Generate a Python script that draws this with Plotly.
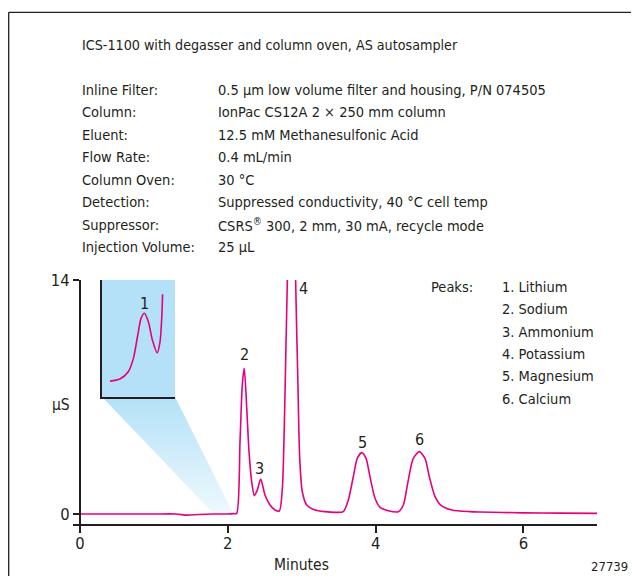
import plotly.graph_objects as go

# ---------------- data ----------------
time_min = [0.00, 0.50, 1.00, 1.30, 1.45, 1.60, 1.80, 2.00, 2.08, 2.120,
            2.165, 2.196, 2.223, 2.256, 2.287, 2.323, 2.359, 2.400, 2.445, 2.503,
            2.571, 2.639, 2.697, 2.738, 2.765, 2.788, 2.805, 2.820, 2.860, 2.900,
            2.918, 2.946, 2.973, 3.008, 3.068, 3.180, 3.315, 3.450, 3.563, 3.631,
            3.698, 3.752, 3.812, 3.870, 3.924, 3.992, 4.060, 4.172, 4.307, 4.375,
            4.442, 4.510, 4.591, 4.668, 4.727, 4.804, 4.894, 5.030, 5.277, 5.413,
            6.000, 6.500, 6.996]
signal_uS = [0.00, 0.00, 0.00, 0.00, -0.07, -0.03, 0.00, 0.00, 0.02, 0.04,
             4.33, 7.72, 8.72, 6.34, 3.73, 1.93, 1.10, 1.45, 2.09, 1.14,
             0.54, 0.24, 0.18, 1.54, 5.33, 10.31, 13.90, 20.0, 30.0, 20.0,
             13.90, 8.32, 3.35, 1.33, 0.54, 0.24, 0.14, 0.10, 0.14, 0.84,
             2.23, 3.33, 3.67, 3.33, 2.23, 0.94, 0.40, 0.20, 0.14, 0.54,
             2.03, 3.33, 3.73, 3.33, 2.23, 1.04, 0.48, 0.24, 0.14, 0.12,
             0.07, 0.05, 0.04]

# inset (expanded view of peak 1)
inset_time = [1.972, 1.999, 2.022, 2.036, 2.048, 2.057, 2.066, 2.077, 2.088, 2.101,
              2.109, 2.114, 2.116]
inset_signal = [0.068, 0.077, 0.108, 0.165, 0.265, 0.336, 0.358, 0.322, 0.244, 0.189,
                0.236, 0.350, 0.439]

peak_numbers = ["2", "3", "4", "5", "6"]
peak_label_t = [2.223, 2.426, 3.022, 3.82, 4.59]
peak_label_y = [9.52, 2.73, 13.5, 4.27, 4.43]

peak_names = ["1. Lithium", "2. Sodium", "3. Ammonium", "4. Potassium",
              "5. Magnesium", "6. Calcium"]

cond_labels = ["Inline Filter:", "Column:", "Eluent:", "Flow Rate:", "Column Oven:",
               "Detection:", "Suppressor:", "Injection Volume:"]
cond_values = ["0.5 μm low volume filter and housing, P/N 074505",
               "IonPac CS12A 2 × 250 mm column",
               "12.5 mM Methanesulfonic Acid",
               "0.4 mL/min",
               "30 °C",
               "Suppressed conductivity, 40 °C cell temp",
               "CSRS<sup>®</sup> 300, 2 mm, 30 mA, recycle mode",
               "25 μL"]
title_text = "ICS-1100 with degasser and column oven, AS autosampler"

x_ticks = [0, 2, 4, 6]
y_ticks = [0, 14]

# ---------------- layout helpers ----------------
OFF = 8                      # page body margin in the browser
W, H = 639 - 2 * OFF, 584 - 2 * OFF
L, R, T, B = 73, 597, 280, 524   # plot area, reference page pixels
X0, X1 = -0.095, 6.996
Y0, Y1 = -0.598, 14.0

def px_x(px):
    return (px - L) / (R - L)

def px_y(py):
    return (B - py) / (B - T)

FONT = "DejaVu Sans Condensed, Liberation Sans Narrow, sans-serif"
TXT = "#231f20"
MAG = "#e5007e"
BLUE = "#b4e1f7"
HS = 14.5   # header text size

fig = go.Figure()

# funnel (gradient) from inset to baseline
fig.add_trace(go.Scatter(
    x=[0.298, 1.286, 2.070, 1.800, 0.298],
    y=[7.0, 7.0, 0.06, 0.06, 7.0],
    fill="toself", mode="lines", line=dict(width=0),
    fillgradient=dict(type="vertical",
                      colorscale=[[0, "rgb(238,249,254)"], [1, BLUE]]),
    hoverinfo="skip", showlegend=False))

# chromatogram
fig.add_trace(go.Scatter(
    x=time_min, y=signal_uS, mode="lines",
    line=dict(color=MAG, width=1.6, shape="spline", smoothing=0.7),
    showlegend=False, hoverinfo="skip"))

# inset trace
fig.add_trace(go.Scatter(
    x=inset_time, y=inset_signal, mode="lines", xaxis="x2", yaxis="y2",
    line=dict(color=MAG, width=1.6, shape="spline", smoothing=0.8),
    showlegend=False, hoverinfo="skip"))

shapes = [
    # inset background
    dict(type="rect", xref="x", yref="y", x0=0.298, x1=1.286, y0=7.0, y1=14.0,
         fillcolor=BLUE, line=dict(width=0), layer="below"),
    # outer frame (left and top)
    dict(type="line", xref="paper", yref="paper", x0=px_x(8.7), x1=px_x(8.7),
         y0=px_y(12.3), y1=px_y(600), line=dict(color="#231f20", width=1.3)),
    dict(type="line", xref="paper", yref="paper", x0=px_x(8.7), x1=px_x(650),
         y0=px_y(12.3), y1=px_y(12.3), line=dict(color="#231f20", width=1.3)),
]

ann = []
def add_text(text, px, py, size=HS, anchor="left", yanchor="middle"):
    ann.append(dict(text=text, x=px_x(px), y=px_y(py), xref="paper", yref="paper",
                    xanchor=anchor, yanchor=yanchor, showarrow=False,
                    font=dict(family=FONT, size=size, color=TXT)))

add_text(title_text, 80, 45, size=14.2)
for i, (lab, val) in enumerate(zip(cond_labels, cond_values)):
    yy = 90 + 22.47 * i
    add_text(lab, 80, yy)
    add_text(val, 216, yy)

add_text("Peaks:", 429, 287)
for i, nm in enumerate(peak_names):
    add_text(nm, 500, 287 + 22.35 * i)

add_text("μS", 61, 405, size=15.5, anchor="center")
add_text("Minutes", 301, 576, size=15.5, anchor="center", yanchor="bottom")
add_text("27739", 630, 576, size=13, anchor="right", yanchor="bottom")

for lab, t, yv in zip(peak_numbers, peak_label_t, peak_label_y):
    ann.append(dict(text=lab, x=t, y=yv, xref="x", yref="y", showarrow=False,
                    xanchor="center", yanchor="middle",
                    font=dict(family=FONT, size=16, color=TXT)))
ann.append(dict(text="1", x=2.066, y=0.40, xref="x2", yref="y2", showarrow=False,
                xanchor="center", yanchor="middle",
                font=dict(family=FONT, size=16, color=TXT)))

fig.update_layout(
    width=W, height=H,
    margin=dict(l=L - OFF, r=W - (R - OFF), t=T - OFF, b=H - (B - OFF), pad=0),
    paper_bgcolor="white", plot_bgcolor="rgba(0,0,0,0)",
    font=dict(family=FONT, size=16, color=TXT),
    shapes=shapes, annotations=ann,
    xaxis=dict(range=[X0, X1], domain=[0, 1], showgrid=False, zeroline=False,
               showline=True, linecolor="#231f20", linewidth=2,
               ticks="outside", ticklen=7, tickwidth=2, tickcolor="#231f20",
               ticklabelstandoff=-4,
               tickvals=x_ticks, ticktext=[str(v) for v in x_ticks],
               tickfont=dict(family=FONT, size=16.5, color=TXT)),
    yaxis=dict(range=[Y0, Y1], domain=[0, 1], showgrid=False, zeroline=False,
               anchor="free", position=(80 - L) / (R - L),
               showline=True, linecolor="#231f20", linewidth=2,
               ticks="outside", ticklen=6, tickwidth=2, tickcolor="#231f20",
               tickvals=y_ticks, ticktext=[str(v) for v in y_ticks],
               tickfont=dict(family=FONT, size=16.5, color=TXT)),
    xaxis2=dict(range=[1.95, 2.15], domain=[px_x(102), px_x(175)], anchor="y2",
                showgrid=False, zeroline=False, showticklabels=False, ticks="",
                showline=True, linecolor="#231f20", linewidth=2),
    yaxis2=dict(range=[0, 0.5], domain=[px_y(397), px_y(280)], anchor="x2",
                showgrid=False, zeroline=False, showticklabels=False, ticks="",
                showline=True, linecolor="#231f20", linewidth=2),
)

fig.write_html("out.html")
